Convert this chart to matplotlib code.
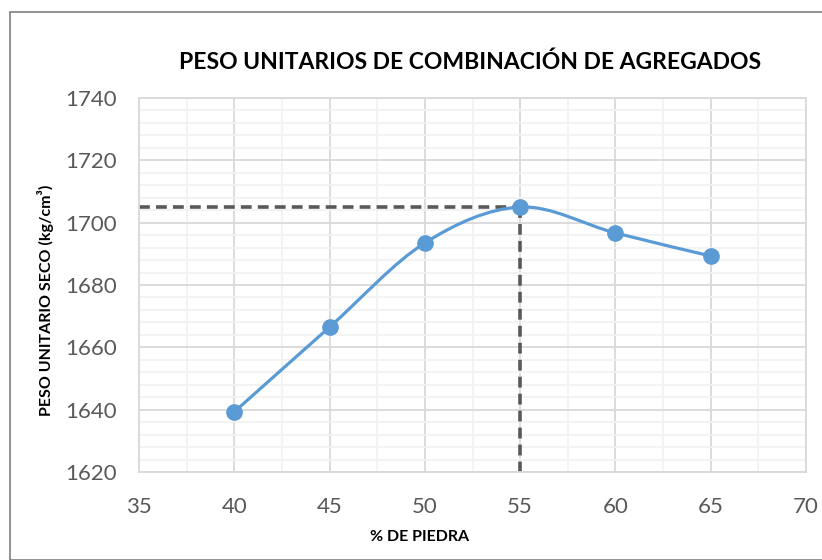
import matplotlib
matplotlib.use("Agg")
import matplotlib.pyplot as plt
from matplotlib.path import Path
from matplotlib.patches import PathPatch, Rectangle
from matplotlib.ticker import MultipleLocator
import numpy as np

# data
piedra = [40, 45, 50, 55, 60, 65]
peso = [1639.3, 1666.5, 1693.5, 1705.0, 1696.7, 1689.3]
opt_x = 55
opt_y = 1705

titulo = 'PESO UNITARIOS DE COMBINACIÓN DE AGREGADOS'
xlab = '% DE PIEDRA'
ylab = 'PESO UNITARIO SECO (kg/cm³)'

azul = '#5B9BD5'
gris = '#595959'

plt.rcParams['font.family'] = ['Lato', 'DejaVu Sans']

W, H = 822, 560
fig = plt.figure(figsize=(W/100, H/100), dpi=100)
ax = fig.add_axes([139/W, 1 - 472/H, (806-139)/W, (472-98)/H])

# chart-area border (Excel style)
fig.patches.append(Rectangle((10/W, 0), 1.0, 1 - 12/H, transform=fig.transFigure,
                             fill=False, edgecolor='#7f7f7f', lw=1.2))

ax.set_xlim(35, 70)
ax.set_ylim(1620, 1740)
ax.xaxis.set_major_locator(MultipleLocator(5))
ax.xaxis.set_minor_locator(MultipleLocator(2.5))
ax.yaxis.set_major_locator(MultipleLocator(20))
ax.yaxis.set_minor_locator(MultipleLocator(4))
ax.grid(which='major', color='#D9D9D9', lw=1.3, zorder=0)
ax.grid(which='minor', color='#F2F2F2', lw=1.3, zorder=0)
ax.set_axisbelow(True)
for s in ax.spines.values():
    s.set_color('#D9D9D9')
    s.set_linewidth(1.3)
ax.tick_params(which='both', length=0)
ax.tick_params(axis='y', pad=16, labelsize=16, labelcolor=gris)
ax.tick_params(axis='x', pad=18, labelsize=16, labelcolor=gris)

# smoothed line like Excel (cubic bezier through points)
x = np.array(piedra, float)
y = np.array(peso, float)
pts = np.column_stack([x, y])
ext = np.vstack([pts[0], pts, pts[-1]])
verts = [tuple(pts[0])]
codes = [Path.MOVETO]
for i in range(len(pts) - 1):
    p0, p1, p2, p3 = ext[i], ext[i+1], ext[i+2], ext[i+3]
    c1 = p1 + (p2 - p0) / 6.0
    c2 = p2 - (p3 - p1) / 6.0
    verts += [tuple(c1), tuple(c2), tuple(p2)]
    codes += [Path.CURVE4] * 3
ax.add_patch(PathPatch(Path(verts, codes), fill=False, edgecolor=azul, lw=2.3,
                       zorder=3, capstyle='round'))
ax.plot(piedra, peso, 'o', color=azul, ms=11, zorder=4)

# optimum guide lines
ax.plot([35, opt_x], [opt_y, opt_y], color=gris, lw=2.6, dashes=(3.0, 1.7), zorder=2)
ax.plot([opt_x, opt_x], [opt_y, 1620], color=gris, lw=2.6, dashes=(3.0, 1.7), zorder=2)

fig.text(470/W, 1 - 62/H, titulo, ha='center', va='center', fontsize=16.5,
         fontweight='bold', color='black')
fig.text(420/W, 1 - 537/H, xlab, ha='center', va='center', fontsize=11.5,
         fontweight='bold', color='black')
fig.text(45/W, 1 - 300/H, ylab, ha='center', va='center', rotation=90,
         fontsize=11.5, fontweight='bold', color='black')

fig.savefig('out.png', dpi=100)
